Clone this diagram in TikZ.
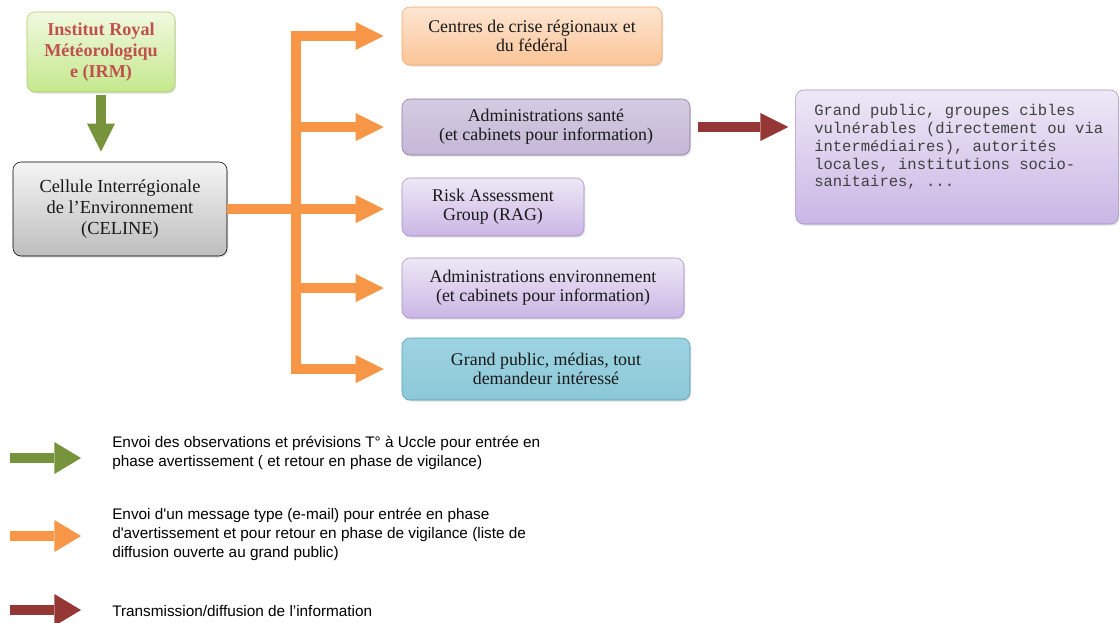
\documentclass[tikz,border=0pt]{standalone}
\usepackage{fontspec}
\setmainfont{Liberation Serif}
\newfontfamily\monofont{Liberation Mono}
\newfontfamily\legfont{Liberation Sans}
\usetikzlibrary{arrows.meta,shadows}
\definecolor{irmtop}{HTML}{F1F9DF}
\definecolor{irmbot}{HTML}{C4E88C}
\definecolor{irmborder}{HTML}{A9CC6E}
\definecolor{irmtext}{HTML}{C0504D}
\definecolor{celtop}{HTML}{F5F5F5}
\definecolor{celbot}{HTML}{BDBDBD}
\definecolor{crtop}{HTML}{FDE6D2}
\definecolor{crbot}{HTML}{FBC497}
\definecolor{crborder}{HTML}{F6A863}
\definecolor{satop}{HTML}{D5CCE2}
\definecolor{sabot}{HTML}{C4B7D6}
\definecolor{saborder}{HTML}{8A76A5}
\definecolor{lavtop}{HTML}{EEE8F6}
\definecolor{lavbot}{HTML}{CAB6E5}
\definecolor{lavborder}{HTML}{A48BC9}
\definecolor{gptop}{HTML}{9DD3E1}
\definecolor{gpbot}{HTML}{8CC8D8}
\definecolor{gpborder}{HTML}{4E9FB5}
\definecolor{agreen}{HTML}{77933C}
\definecolor{aorange}{HTML}{F79646}
\definecolor{ared}{HTML}{953735}
\tikzset{
  box/.style={draw, rounded corners=6pt, align=center, inner sep=2pt,
    drop shadow={opacity=0.25, shadow xshift=0.8pt, shadow yshift=-1.2pt},
    font=\fontsize{13.4}{14.5}\selectfont, text=black!90},
  blockarrow/.style={line width=7.5pt,
    -{Triangle[length=21pt,width=21pt,line width=0pt]}},
  garrow/.style={blockarrow, draw=agreen, fill=agreen},
  oarrow/.style={blockarrow, draw=aorange, fill=aorange},
  rarrow/.style={blockarrow, draw=ared, fill=ared},
  legarrow/.style={line width=8pt,
    -{Triangle[length=20pt,width=24pt,line width=0pt]}},
  legtext/.style={anchor=west, align=left, inner sep=0pt,
    font=\legfont\fontsize{11.5}{14.25}\selectfont, text=black}
}
\begin{document}
\begin{tikzpicture}[x=0.75pt,y=-0.75pt]
\useasboundingbox (0,0) rectangle (1120,622);

% boxes
\node[box, draw=irmborder, top color=irmtop, bottom color=irmbot,
  text=irmtext, font=\bfseries\fontsize{13.6}{16}\selectfont,
  minimum width=111pt, minimum height=60pt] (irm) at (101,52)
  {Institut Royal\\Météorologiqu\\e (IRM)};
\node[box, draw=black, top color=celtop, bottom color=celbot,
  font=\fontsize{13.8}{15.8}\selectfont,
  minimum width=160.5pt, minimum height=70.5pt] (celine) at (120,209)
  {Cellule Interrégionale\\de l’Environnement\\(CELINE)};

\node[box, draw=crborder, top color=crtop, bottom color=crbot,
  minimum width=195pt, minimum height=43.5pt] (crise) at (532,36)
  {Centres de crise régionaux et\\du fédéral};
\node[box, draw=saborder, top color=satop, bottom color=sabot,
  minimum width=216pt, minimum height=42pt] (sante) at (546,127)
  {Administrations santé\\(et cabinets pour information)};
\node[box, draw=lavborder, top color=lavtop, bottom color=lavbot,
  minimum width=136.5pt, minimum height=43.5pt] (rag) at (493,207)
  {Risk Assessment\\Group (RAG)};
\node[box, draw=lavborder, top color=lavtop, bottom color=lavbot,
  minimum width=211.5pt, minimum height=45pt] (env) at (543,288)
  {Administrations environnement\\(et cabinets pour information)};
\node[box, draw=gpborder, top color=gptop, bottom color=gpbot,
  minimum width=216pt, minimum height=46.5pt] (gp) at (546,369)
  {Grand public, médias, tout\\demandeur intéressé};

\node[box, draw=lavborder, top color=lavtop, bottom color=lavbot,
  minimum width=242pt, minimum height=100.5pt] (right) at (957,157) {};
\node[anchor=north west, align=left, inner sep=0pt, text=black!75,
  font=\monofont\fontsize{11.65}{13.4}\selectfont] (righttext) at (814,104)
  {Grand public, groupes cibles\\vulnérables (directement ou via\\intermédiaires), autorités\\locales, institutions socio-\\sanitaires, ...};

% green arrow
\draw[garrow] ([yshift=-2.25pt]irm.south) -- ([yshift=7.5pt]irm.south |- celine.north);

% orange bus
\coordinate (bt) at (296,31);
\coordinate (bb) at (296,374);
\draw[draw=aorange, line width=7.5pt] (bt) -- (bb);
\draw[oarrow] (celine.east) -- ([xshift=-13.5pt]celine.east -| rag.west);
\draw[oarrow] (bt |- crise.west) -- ([xshift=-13.5pt]crise.west);
\draw[oarrow] (bt |- sante.west) -- ([xshift=-13.5pt]sante.west);
\draw[oarrow] (bt |- env.west) -- ([xshift=-13.5pt]env.west);
\draw[oarrow] (bt |- gp.west) -- ([xshift=-13.5pt]gp.west);

% red arrow
\draw[rarrow] ([xshift=6pt]sante.east) -- ([xshift=-5.25pt]right.west |- sante.east);

% legend
\coordinate (l1s) at (10,458); \coordinate (l1e) at (81,458);
\coordinate (l2s) at (10,536); \coordinate (l2e) at (81,536);
\coordinate (l3s) at (10,610); \coordinate (l3e) at (81,610);
\draw[legarrow, draw=agreen, fill=agreen] (l1s) -- (l1e);
\draw[legarrow, draw=aorange, fill=aorange] (l2s) -- (l2e);
\draw[legarrow, draw=ared, fill=ared] (l3s) -- (l3e);
\node[legtext] (t1) at (112,453)
  {Envoi des observations et prévisions T° à Uccle pour entrée en\\phase avertissement ( et retour en phase de vigilance)};
\node[legtext] (t2) at (112,534)
  {Envoi d\textquotesingle un message type (e-mail) pour entrée en phase\\d\textquotesingle avertissement et pour retour en phase de vigilance (liste de\\diffusion ouverte au grand public)};
\node[legtext] (t3) at (112,611)
  {Transmission/diffusion de l’information};
\end{tikzpicture}
\end{document}
